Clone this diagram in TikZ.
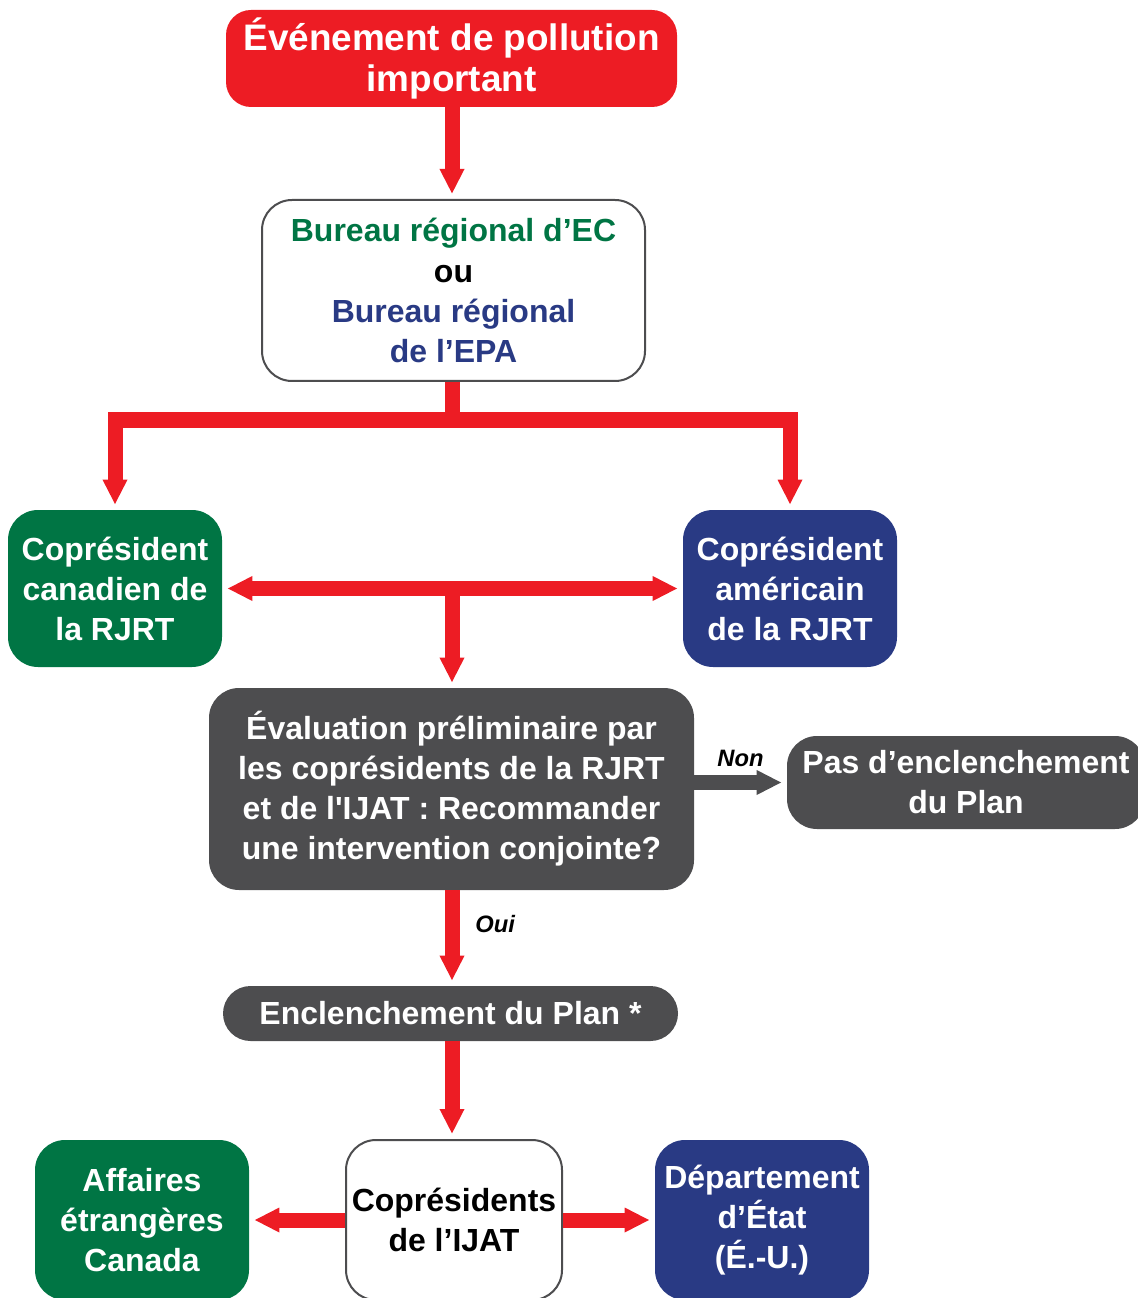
\documentclass[tikz,border=0pt]{standalone}
\usepackage{fontspec}
\setmainfont{Liberation Sans}
\usetikzlibrary{positioning,arrows.meta,calc}
\definecolor{pollred}{HTML}{ED1C24}
\definecolor{ecgreen}{HTML}{007544}
\definecolor{epablue}{HTML}{293A84}
\definecolor{boxgray}{HTML}{4D4D4F}
\tikzset{
  box/.style={rectangle, rounded corners=0.6cm, align=center, inner sep=0pt, text=white,
    font=\bfseries\fontsize{18.2}{22.8}\selectfont},
  redbox/.style={box, fill=pollred, font=\bfseries\fontsize{21}{22.8}\selectfont},
  greenbox/.style={box, fill=ecgreen},
  bluebox/.style={box, fill=epablue},
  graybox/.style={box, fill=boxgray},
  whitebox/.style={box, fill=white, draw=boxgray, line width=0.04cm, text=black},
  tipR/.tip={Triangle[width=0.46cm,length=0.5cm]},
  flow/.style={line width=0.3cm, draw=pollred, -tipR, shorten >=0.1cm},
  flowline/.style={line width=0.3cm, draw=pollred},
  answer/.style={font=\bfseries\itshape\fontsize{13.5}{15}\selectfont, text=black}
}
\begin{document}
\begin{tikzpicture}
	\clip (0,0) rectangle (22.76,-25.96);
	% boxes
	\node[name=evt, redbox, minimum width=9.02cm, minimum height=1.94cm, rounded corners=0.5cm] at (9.03,-1.17) {Événement de pollution\\important};
	\node[name=bureau, whitebox, minimum width=7.66cm, minimum height=3.62cm] at (9.07,-5.81)
		{\textcolor{ecgreen}{Bureau régional d’EC}\\ou\\\textcolor{epablue}{Bureau régional}\\\textcolor{epablue}{de l’EPA}};
	\node[name=cdn, greenbox, minimum width=4.28cm, minimum height=3.14cm] at (2.3,-11.77) {Coprésident\\canadien de\\la RJRT};
	\node[name=usa, bluebox, minimum width=4.28cm, minimum height=3.14cm] at (15.8,-11.77) {Coprésident\\américain\\de la RJRT};
	\node[name=eval, graybox, minimum width=9.7cm, minimum height=4.04cm] at (9.03,-15.78)
		{Évaluation préliminaire par\\les coprésidents de la RJRT\\et de l\textquotesingle IJAT : Recommander\\une intervention conjointe?};
	\node[name=pas, graybox, minimum width=7.16cm, minimum height=1.86cm] at (19.32,-15.65) {Pas d’enclenchement\\du Plan};
	\node[name=plan, graybox, minimum width=9.1cm, minimum height=1.1cm, rounded corners=0.55cm] at (9.01,-20.27) {Enclenchement du Plan *};
	\node[name=ijat, whitebox, minimum width=4.32cm, minimum height=3.2cm] at (9.08,-24.4) {Coprésidents\\de l’IJAT};
	\node[name=aff, greenbox, minimum width=4.28cm, minimum height=3.2cm] at (2.84,-24.4) {Affaires\\étrangères\\Canada};
	\node[name=dep, bluebox, minimum width=4.28cm, minimum height=3.2cm] at (15.24,-24.4) {Département\\d’État\\(É.-U.)};
	% connectors (all verticals on one line)
	\coordinate (axis) at (9.04,0);
	\draw[flow] (axis |- evt.south) -- (axis |- bureau.north);
	\coordinate (split) at (9.04,-8.4);
	\draw[flowline] (axis |- bureau.south) -- (split);
	\draw[flow] (split) -| (cdn.north);
	\draw[flow] (split) -| (usa.north);
	\draw[flow, tipR-tipR, shorten <=0.1cm] (cdn) -- (usa);
	\coordinate (join) at (axis |- cdn.east);
	\draw[flow] (join) -- (axis |- eval.north);
	\draw[flow, draw=boxgray] (eval.east |- pas.west) -- node[answer, above=0.05cm] {Non} (pas.west);
	\draw[flow] (axis |- eval.south) -- node[answer, pos=0.35, right=0.2cm] {Oui} (axis |- plan.north);
	\draw[flow] (axis |- plan.south) -- (axis |- ijat.north);
	\draw[flow] (ijat) -- (aff);
	\draw[flow] (ijat) -- (dep);
\end{tikzpicture}
\end{document}
